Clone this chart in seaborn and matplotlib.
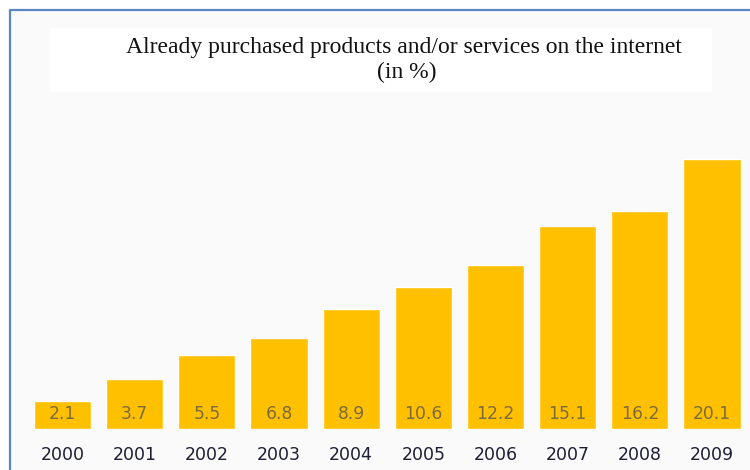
import matplotlib
matplotlib.use("Agg")
import matplotlib.pyplot as plt
from matplotlib.patches import Rectangle
from matplotlib.lines import Line2D
import seaborn as sns
import pandas as pd

years = ["2000", "2001", "2002", "2003", "2004", "2005", "2006", "2007", "2008", "2009"]
values = [2.1, 3.7, 5.5, 6.8, 8.9, 10.6, 12.2, 15.1, 16.2, 20.1]
value_labels = ["2.1", "3.7", "5.5", "6.8", "8.9", "10.6", "12.2", "15.1", "16.2", "20.1"]
title_line1 = "Already purchased products and/or services on the internet"
title_line2 = "(in %)"

sns.set_theme(style="white")
plt.rcParams["font.family"] = ["DejaVu Sans"]

W, H = 750, 470
fig = plt.figure(figsize=(W / 100, H / 100), dpi=100)
fig.patch.set_facecolor("white")

# inner panel background + blue border
fig.patches.append(Rectangle((11 / W, 0), 1, 1 - 11 / H, transform=fig.transFigure,
                             facecolor="#fafafa", edgecolor="none", zorder=-3))
fig.lines.append(Line2D([10 / W, 10 / W, 1.0], [0, 1 - 10 / H, 1 - 10 / H],
                        transform=fig.transFigure, color="#5b86c5", lw=1.6, zorder=-2))
# title box
fig.patches.append(Rectangle((50 / W, 1 - 92 / H), (712 - 50) / W, 64 / H,
                             transform=fig.transFigure, facecolor="white",
                             edgecolor="none", zorder=-2))
fig.text(404 / W, 1 - 47 / H, title_line1, ha="center", va="center",
         family=["Liberation Serif"], fontsize=17, color="#111111", zorder=2)
fig.text(407 / W, 1 - 72 / H, title_line2, ha="center", va="center",
         family=["Liberation Serif"], fontsize=17, color="#111111", zorder=2)

base = 429
ax = fig.add_axes([0, (H - base) / H, 1, base / H])
ax.set_zorder(1)
ax.set_facecolor("none")
df = pd.DataFrame({"year": years, "value": values})
sns.barplot(data=df, x="year", y="value", color="#FFC000", saturation=1,
            width=0.79, ax=ax)
px_per_unit = 72.17
ax.set_xlim(-62.5 / px_per_unit, 9 + (W - 712) / px_per_unit)
ax.set_ylim(0, base / 13.43)
for s in ax.spines.values():
    s.set_visible(False)
ax.set_yticks([])
ax.set_xlabel("")
ax.set_ylabel("")
ax.tick_params(axis="x", length=0, pad=12.5, labelsize=12.5, labelcolor="#1e1e35")
for i, lab in enumerate(value_labels):
    ax.annotate(lab, xy=(i, 0), xytext=(0, 11), textcoords="offset points",
                ha="center", va="center", fontsize=12.3, color="#7d6a3c")

fig.savefig("out.png", dpi=100)
